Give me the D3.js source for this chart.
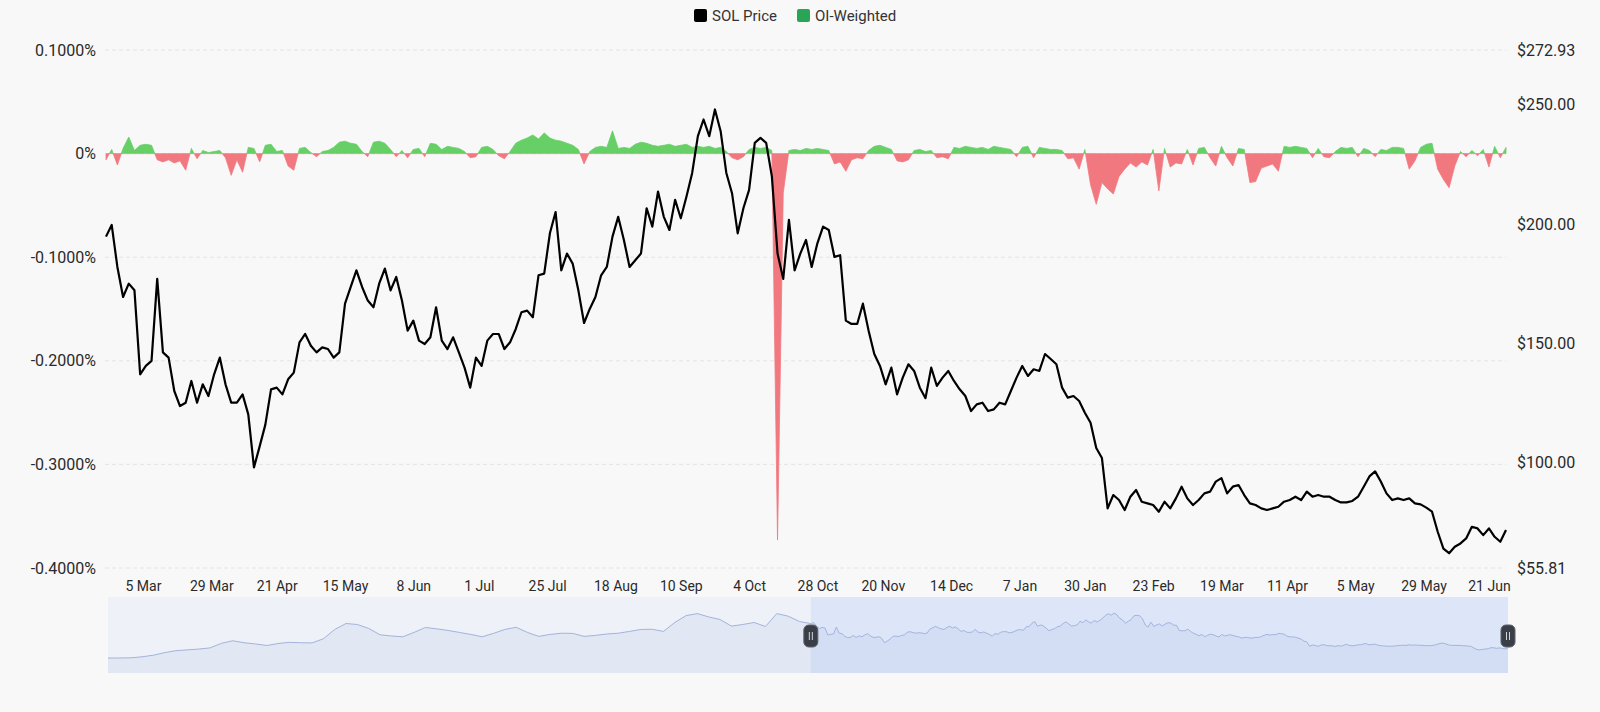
<!DOCTYPE html>
<html>
<head>
<meta charset="utf-8">
<script src="https://cdn.jsdelivr.net/npm/d3@7"></script>
<style>
  html, body { margin: 0; padding: 0; background: #f8f8f8; }
  svg { display: block; font-family: Roboto, "Noto Sans", sans-serif; }
</style>
</head>
<body>
<div id="chart"></div>
<script>
/* data: one value every 2 days from startDate */
var startDate = "2025-02-20";
var stepDays = 2;

var solPrice = [
  194.7, 199.6, 182.0, 169.4, 175.0, 172.2, 137.0, 140.5, 142.6, 177.0,
  146.2, 144.0, 130.0, 123.7, 125.1, 134.2, 125.1, 132.8, 127.9, 137.0,
  144.0, 132.8, 125.1, 125.1, 128.6, 120.2, 98.0, 106.8, 115.9, 130.7,
  131.4, 128.6, 134.9, 137.7, 150.4, 153.9, 149.0, 146.2, 148.3, 147.6,
  144.0, 146.2, 166.6, 173.6, 180.6, 173.6, 167.9, 165.1, 175.0, 181.3,
  172.2, 177.8, 167.9, 155.3, 159.5, 151.1, 149.7, 152.5, 165.1, 151.1,
  147.6, 152.5, 146.2, 139.8, 131.4, 144.0, 140.5, 151.1, 153.9, 153.9,
  147.6, 150.4, 156.0, 163.0, 163.7, 160.9, 178.5, 179.2, 196.1, 205.0,
  180.6, 187.6, 183.4, 172.2, 158.5, 164.4, 169.4, 178.5, 182.0, 194.7,
  203.0, 193.3, 182.0, 184.8, 187.6, 206.6, 198.9, 213.6, 203.1, 197.5,
  210.1, 202.4, 211.5, 221.4, 236.8, 243.8, 236.8, 248.0, 238.9, 221.4,
  212.9, 196.1, 206.6, 214.3, 234.0, 236.1, 234.0, 220.0, 187.6, 177.0,
  201.7, 180.6, 187.6, 193.3, 182.0, 191.9, 198.9, 197.5, 186.2, 186.9,
  159.5, 158.1, 158.1, 166.6, 155.3, 145.5, 140.5, 132.8, 139.8, 128.6,
  135.6, 141.2, 138.4, 131.4, 127.0, 139.8, 132.1, 135.6, 138.4, 134.2,
  130.7, 127.9, 121.6, 124.4, 125.1, 121.6, 122.3, 125.1, 124.4, 130.0,
  135.6, 140.5, 136.3, 139.1, 138.4, 145.5, 143.4, 141.2, 131.4, 127.2,
  127.9, 125.8, 120.9, 116.7, 106.1, 101.9, 80.8, 86.4, 84.3, 80.1,
  85.7, 88.5, 83.6, 82.9, 82.2, 79.4, 83.6, 80.8, 85.0, 89.9,
  85.0, 82.2, 84.3, 87.1, 87.8, 92.0, 93.5, 87.1, 89.9, 90.6,
  86.4, 82.9, 82.2, 80.8, 80.1, 80.8, 81.5, 83.6, 84.3, 85.7,
  84.3, 87.8, 85.7, 86.4, 85.7, 85.7, 84.3, 83.3, 83.3, 83.9,
  85.7, 89.9, 94.2, 96.3, 92.1, 87.1, 84.3, 85.0, 84.3, 85.0,
  82.9, 82.5, 81.1, 79.4, 71.0, 63.9, 62.0, 64.7, 66.1, 68.2,
  73.1, 72.4, 69.6, 72.4, 68.9, 66.8, 71.7
];

/* OI-weighted funding rate, in % */
var oiWeighted = [
  -0.006, 0.004, -0.011, 0.005, 0.016, 0.003, 0.008, 0.009, 0.008, -0.006,
  -0.008, -0.006, -0.009, -0.007, -0.016, 0.005, -0.005, 0.003, 0.001, 0.002,
  0.003, -0.004, -0.021, -0.006, -0.018, 0.006, 0.005, -0.008, 0.008, 0.009,
  0.002, 0.003, -0.012, -0.016, 0.005, 0.006, 0.001, -0.003, 0.002, 0.003,
  0.006, 0.011, 0.012, 0.010, 0.009, 0.002, -0.003, 0.011, 0.012, 0.010,
  0.004, -0.003, 0.003, -0.004, 0.004, 0.005, -0.003, 0.010, 0.009, 0.004,
  0.007, 0.006, 0.005, 0.002, -0.004, -0.003, 0.006, 0.007, 0.004, -0.002,
  -0.005, 0.002, 0.010, 0.013, 0.015, 0.018, 0.014, 0.020, 0.015, 0.013,
  0.012, 0.010, 0.008, 0.004, -0.010, 0.002, 0.006, 0.007, 0.006, 0.022,
  0.005, 0.006, 0.005, 0.009, 0.011, 0.010, 0.008, 0.007, 0.008, 0.009,
  0.007, 0.008, 0.009, 0.006, 0.007, 0.006, 0.007, 0.005, 0.006, 0.002,
  -0.004, -0.006, -0.003, 0.004, 0.006, 0.005, 0.006, 0.003, -0.373, -0.038,
  0.003, 0.004, 0.003, 0.005, 0.004, 0.005, 0.004, 0.003, -0.010, -0.008,
  -0.017, -0.006, -0.004, -0.005, 0.003, 0.007, 0.008, 0.006, 0.004, -0.007,
  -0.008, -0.006, 0.003, 0.004, 0.002, 0.003, -0.004, -0.003, -0.005, 0.006,
  0.005, 0.007, 0.006, 0.005, 0.006, 0.004, 0.007, 0.006, 0.005, 0.004,
  -0.003, 0.006, 0.007, -0.004, 0.006, 0.005, 0.004, 0.004, 0.003, -0.005,
  -0.004, -0.015, 0.004, -0.030, -0.049, -0.028, -0.034, -0.039, -0.022, -0.015,
  -0.009, -0.013, -0.008, -0.011, 0.004, -0.036, 0.005, -0.013, -0.009, -0.010,
  0.004, -0.011, 0.005, 0.006, -0.004, -0.012, 0.007, -0.004, -0.012, 0.005,
  0.004, -0.028, -0.027, -0.014, -0.012, -0.010, -0.017, 0.007, 0.006, 0.007,
  0.006, 0.005, -0.004, 0.005, -0.003, -0.004, 0.002, 0.006, 0.005, 0.006,
  -0.003, 0.005, 0.003, -0.003, 0.004, 0.003, 0.006, 0.006, 0.005, -0.015,
  -0.007, 0.006, 0.009, 0.010, -0.015, -0.025, -0.033, -0.012, 0.002, -0.003,
  0.003, -0.002, 0.004, -0.013, 0.007, -0.004, 0.006
];

/* earlier prices shown only in the zoom slider, one every 8 days before startDate */
var historyStep = 8;
var historyPrice = [
  21, 21, 22, 27, 35, 48, 58, 62, 66, 72,
  95, 108, 98, 92, 84, 94, 100, 98, 97, 118,
  165, 195, 190, 170, 138, 132, 128, 150, 175, 168,
  160, 150, 140, 128, 145, 165, 176, 150, 130, 140,
  146, 145, 130, 135, 142, 146, 155, 165, 166, 155,
  200, 235, 245, 228, 215, 182, 190, 200, 180, 245,
  232, 205
];

var xTickDates = ["2025-03-05", "2025-03-29", "2025-04-21", "2025-05-15", "2025-06-08",
  "2025-07-01", "2025-07-25", "2025-08-18", "2025-09-10", "2025-10-04", "2025-10-28",
  "2025-11-20", "2025-12-14", "2026-01-07", "2026-01-30", "2026-02-23", "2026-03-19",
  "2026-04-11", "2026-05-05", "2026-05-29", "2026-06-21"];
var leftTicks = [0.1, 0, -0.1, -0.2, -0.3, -0.4];
var rightTicks = [272.93, 250, 200, 150, 100, 55.81];

var seriesNames = ["SOL Price", "OI-Weighted"];
var seriesColors = ["#000000", "#2aa457"];

var W = 1600, H = 712;
var svg = d3.select("#chart").append("svg")
    .attr("width", W)
    .attr("height", H);

var parse = d3.utcParse("%Y-%m-%d");
var t0 = parse(startDate);

var priceData = solPrice.map(function(v, i) { return {date: d3.utcDay.offset(t0, i * stepDays), value: v}; });
var fundData = oiWeighted.map(function(v, i) { return {date: d3.utcDay.offset(t0, i * stepDays), value: v}; });
var histData = historyPrice.map(function(v, i) {
    return {date: d3.utcDay.offset(t0, -(historyPrice.length - i) * historyStep), value: v};
});
var tEnd = priceData[priceData.length - 1].date;

/* scales */
var x = d3.scaleUtc().domain([t0, tEnd]).range([106, 1506]);
var yL = d3.scaleLinear().domain([-0.4, 0.1]).range([568, 50]);
var yR = d3.scaleLinear().domain([55.81, 272.93]).range([568, 50]);

/* grid */
svg.append("g")
    .selectAll("line")
    .data(leftTicks)
    .join("line")
    .attr("x1", 105)
    .attr("x2", 1506)
    .attr("y1", function(d) { return yL(d); })
    .attr("y2", function(d) { return yL(d); })
    .attr("stroke", "#e4e4e4")
    .attr("stroke-dasharray", "4,3");

/* left axis */
var leftAxis = svg.append("g")
    .attr("transform", "translate(105,0)")
    .call(d3.axisLeft(yL).tickValues(leftTicks).tickSize(0).tickPadding(9)
        .tickFormat(function(v) { return v === 0 ? "0%" : v.toFixed(4) + "%"; }));

/* right axis */
var rightAxis = svg.append("g")
    .attr("transform", "translate(1506,0)")
    .call(d3.axisRight(yR).tickValues(rightTicks).tickSize(0).tickPadding(11)
        .tickFormat(function(v) { return "$" + v.toFixed(2); }));

/* x axis */
var xAxis = svg.append("g")
    .attr("transform", "translate(0,568)")
    .call(d3.axisBottom(x).tickValues(xTickDates.map(parse)).tickSize(0).tickPadding(13)
        .tickFormat(d3.utcFormat("%-d %b")));

[leftAxis, rightAxis, xAxis].forEach(function(g) {
    g.select(".domain").remove();
    g.selectAll("text")
        .attr("fill", "#2a2a2a")
        .style("font-family", "Roboto, sans-serif");
});
leftAxis.selectAll("text").style("font-size", "16px");
rightAxis.selectAll("text").style("font-size", "16px");
xAxis.selectAll("text").style("font-size", "14px");

/* funding area, green above zero and red below */
var defs = svg.append("defs");
defs.append("clipPath").attr("id", "clipPos")
    .append("rect").attr("x", 0).attr("y", 0).attr("width", W).attr("height", yL(0));
defs.append("clipPath").attr("id", "clipNeg")
    .append("rect").attr("x", 0).attr("y", yL(0)).attr("width", W).attr("height", H);

var fundArea = d3.area()
    .x(function(d) { return x(d.date); })
    .y0(yL(0))
    .y1(function(d) { return yL(d.value); });

svg.append("path")
    .datum(fundData)
    .attr("clip-path", "url(#clipPos)")
    .attr("d", fundArea)
    .attr("fill", "#66cf66")
    .attr("stroke", "#66cf66")
    .attr("stroke-width", 0.8);

svg.append("path")
    .datum(fundData)
    .attr("clip-path", "url(#clipNeg)")
    .attr("d", fundArea)
    .attr("fill", "#f27880")
    .attr("stroke", "#f27880")
    .attr("stroke-width", 0.8);

/* price line */
svg.append("path")
    .datum(priceData)
    .attr("fill", "none")
    .attr("stroke", "#000")
    .attr("stroke-width", 2.2)
    .attr("stroke-linejoin", "round")
    .attr("d", d3.line()
        .x(function(d) { return x(d.date); })
        .y(function(d) { return yR(d.value); }));

/* legend */
var legend = svg.append("g").attr("class", "legend");
var legendX = [694, 797];
seriesNames.forEach(function(name, i) {
    legend.append("rect")
        .attr("x", legendX[i])
        .attr("y", 9)
        .attr("width", 13)
        .attr("height", 13)
        .attr("rx", 2)
        .attr("fill", seriesColors[i]);
    legend.append("text")
        .attr("x", legendX[i] + 18)
        .attr("y", 16)
        .attr("dy", "0.35em")
        .attr("fill", "#333")
        .style("font-size", "15px")
        .text(name);
});

/* zoom slider with the full history */
var allData = histData.concat(priceData);
var sx = d3.scaleUtc().domain([allData[0].date, tEnd]).range([108, 1508]);
var sy = d3.scaleLinear().domain(d3.extent(allData, function(d) { return d.value; })).range([658, 613]);

var slider = svg.append("g").attr("class", "slider");
slider.append("rect")
    .attr("x", 108).attr("y", 597)
    .attr("width", 1400).attr("height", 76)
    .attr("fill", "#eef1f8");

slider.append("path")
    .datum(allData)
    .attr("fill", "#e2e7f4")
    .attr("d", d3.area()
        .x(function(d) { return sx(d.date); })
        .y0(673)
        .y1(function(d) { return sy(d.value); }));

slider.append("rect")
    .attr("x", sx(t0)).attr("y", 597)
    .attr("width", sx(tEnd) - sx(t0)).attr("height", 76)
    .attr("fill", "rgba(135,175,255,0.16)");

slider.append("path")
    .datum(allData)
    .attr("fill", "none")
    .attr("stroke", "#a3b3dc")
    .attr("stroke-width", 1)
    .attr("d", d3.line()
        .x(function(d) { return sx(d.date); })
        .y(function(d) { return sy(d.value); }));

[t0, tEnd].forEach(function(t) {
    var hx = sx(t);
    slider.append("rect")
        .attr("x", hx - 7).attr("y", 625)
        .attr("width", 14).attr("height", 22)
        .attr("rx", 5)
        .attr("fill", "#3a3e47")
        .attr("stroke", "#5c616c");
    slider.append("line")
        .attr("x1", hx - 1.5).attr("x2", hx - 1.5)
        .attr("y1", 632).attr("y2", 640)
        .attr("stroke", "#cfd3dc");
    slider.append("line")
        .attr("x1", hx + 1.5).attr("x2", hx + 1.5)
        .attr("y1", 632).attr("y2", 640)
        .attr("stroke", "#cfd3dc");
});
</script>
</body>
</html>
